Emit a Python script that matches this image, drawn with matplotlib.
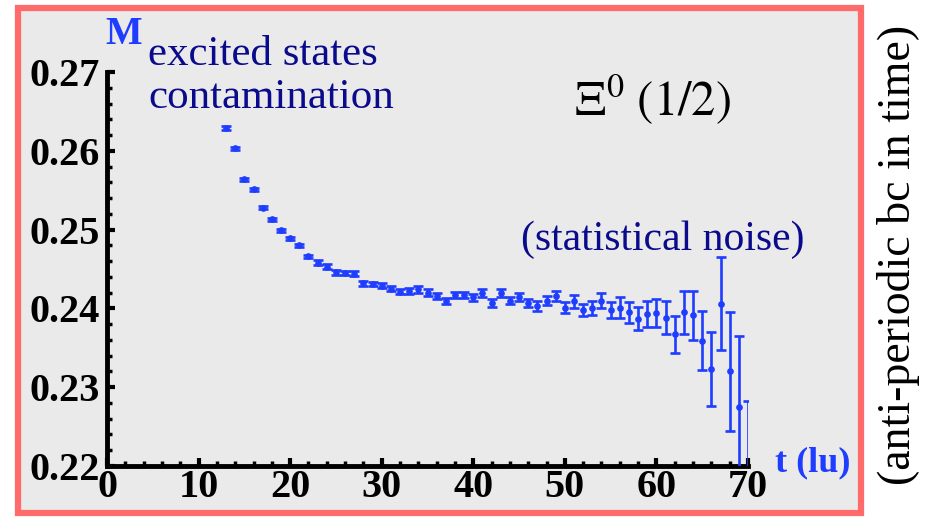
import matplotlib
matplotlib.use("Agg")
import matplotlib.pyplot as plt
from matplotlib.patches import Rectangle
from matplotlib.ticker import MultipleLocator

# time slices (lattice units) and effective mass with errors
t = [13, 14, 15, 16, 17, 18, 19, 20, 21, 22, 23, 24, 25, 26, 27,
     28, 29, 30, 31, 32, 33, 34, 35, 36, 37, 38, 39, 40, 41, 42,
     43, 44, 45, 46, 47, 48, 49, 50, 51, 52, 53, 54, 55, 56, 57,
     58, 59, 60, 61, 62, 63, 64, 65, 66, 67, 68, 69, 70]
mass = [0.2629, 0.2603, 0.2564, 0.2551, 0.2528, 0.2513, 0.2499, 0.2489, 0.2480, 0.2466,
        0.2458, 0.2453, 0.2446, 0.2445, 0.2444, 0.2432, 0.2431, 0.2429, 0.2425, 0.2421,
        0.2422, 0.2424, 0.2420, 0.2416, 0.2409, 0.2417, 0.2417, 0.2414, 0.2419, 0.2407,
        0.2419, 0.2410, 0.2414, 0.2407, 0.2403, 0.2410, 0.2416, 0.2401, 0.2409, 0.2398,
        0.2401, 0.2410, 0.2398, 0.2401, 0.2395, 0.2387, 0.2393, 0.2394, 0.2388, 0.2367,
        0.2395, 0.2391, 0.2359, 0.2323, 0.2406, 0.2320, 0.2275, 0.2185]
err = [0.0002, 0.0002, 0.0002, 0.0002, 0.0002, 0.0002, 0.0002, 0.0002, 0.0002, 0.0002,
       0.0003, 0.0003, 0.0003, 0.0003, 0.0003, 0.0003, 0.0003, 0.0003, 0.0003, 0.0003,
       0.0004, 0.0004, 0.0004, 0.0004, 0.0004, 0.0004, 0.0004, 0.0004, 0.0005, 0.0005,
       0.0005, 0.0005, 0.0005, 0.0005, 0.0006, 0.0006, 0.0006, 0.00074, 0.0008, 0.00082,
       0.00089, 0.0010, 0.00104, 0.00129, 0.00131, 0.00148, 0.00163, 0.00178, 0.0021, 0.00235,
       0.00273, 0.00317, 0.00374, 0.00472, 0.0059, 0.0075, 0.0090, 0.0098]

x_ticks = [0, 10, 20, 30, 40, 50, 60, 70]
y_ticks = [0.22, 0.23, 0.24, 0.25, 0.26, 0.27]

W, H = 930, 520
BLUE = "#1f3dff"
NAVY = "#0a0a8c"
SERIF = ["Liberation Serif", "DejaVu Serif"]

plt.rcParams["mathtext.fontset"] = "stix"

fig = plt.figure(figsize=(W / 100, H / 100), dpi=100)
fig.patch.set_facecolor("white")


def px(x, y):
    return x / W, 1 - y / H


# red frame with grey panel
x0, y0 = px(18, 513)
x1, y1 = px(861, 8)
fig.add_artist(Rectangle((x0, y0), x1 - x0, y1 - y0, transform=fig.transFigure,
                         facecolor="#eaeaea", edgecolor="#ff6a6a", linewidth=4.5, zorder=0))

ax = fig.add_axes([107 / W, 1 - 466 / H, (748 - 107) / W, (466 - 72) / H])
ax.patch.set_alpha(0)

ax.errorbar(t, mass, yerr=err, fmt="o", color=BLUE, ecolor=BLUE, markersize=3.8,
            elinewidth=1.9, capsize=3.8, capthick=1.9, zorder=3)

ax.set_xlim(0, 70)
ax.set_ylim(0.22, 0.27)
ax.set_xticks(x_ticks)
ax.set_yticks(y_ticks)
ax.set_xticklabels([str(v) for v in x_ticks])
ax.set_yticklabels([f"{v:.2f}" for v in y_ticks])
ax.xaxis.set_minor_locator(MultipleLocator(2))
ax.yaxis.set_minor_locator(MultipleLocator(0.002))

for side in ["top", "right"]:
    ax.spines[side].set_visible(False)
for side in ["left", "bottom"]:
    ax.spines[side].set_linewidth(3.5)

ax.tick_params(which="major", direction="in", length=6, width=3)
ax.tick_params(which="minor", direction="in", length=3.5, width=2.5)
for lab in ax.get_xticklabels() + ax.get_yticklabels():
    lab.set_fontfamily(SERIF)
    lab.set_fontweight("bold")
    lab.set_fontsize(29)
ax.tick_params(axis="y", pad=5)
ax.tick_params(axis="x", pad=2)

# axis names
fig.text(*px(124, 35), "M", color=BLUE, family=SERIF, fontweight="bold",
         fontsize=28, ha="center", va="center")
fig.text(*px(813, 463), "t (lu)", color=BLUE, family=SERIF, fontweight="bold",
         fontsize=26, ha="center", va="center")

# annotations
fig.text(*px(148, 65), "excited states", color=NAVY, family=SERIF,
         fontsize=31, ha="left", va="baseline")
fig.text(*px(148, 108), "contamination", color=NAVY, family=SERIF,
         fontsize=31, ha="left", va="baseline")
fig.text(*px(663, 250), "(statistical noise)", color=NAVY, family=SERIF,
         fontsize=30, ha="center", va="baseline")
fig.text(*px(653, 100), r"$\Xi^0\ (1/2)$", color="black", fontsize=35,
         ha="center", va="center")
fig.text(*px(898, 255), "(anti-periodic bc in time)", color="black", family=SERIF,
         fontsize=33, rotation=90, ha="center", va="center")

fig.savefig("out.png", dpi=100)
